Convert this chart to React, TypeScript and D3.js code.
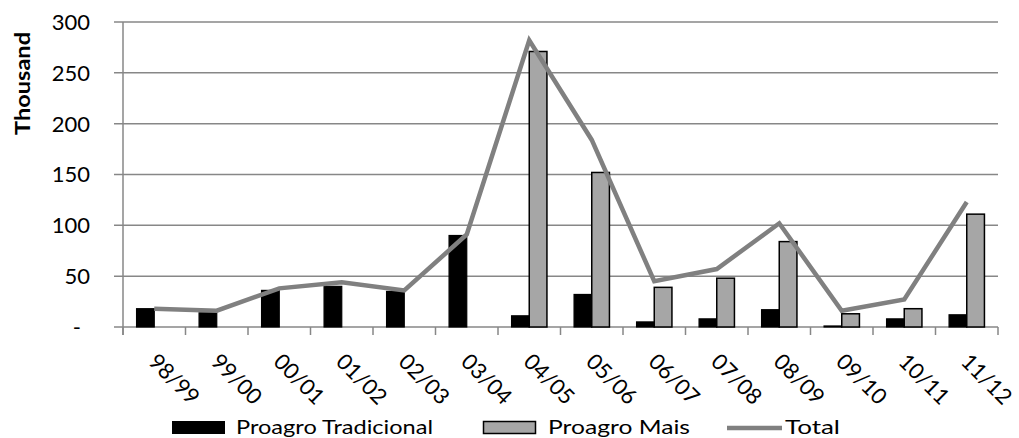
import React from "react";
import * as d3 from "d3";

const categories = ["98/99", "99/00", "00/01", "01/02", "02/03", "03/04", "04/05", "05/06", "06/07", "07/08", "08/09", "09/10", "10/11", "11/12"];
const tradicional = [18, 14, 36, 40, 35, 90, 11, 32, 5, 8, 17, 1, 8, 12];
const mais = [0, 0, 0, 0, 0, 0, 271, 152, 39, 48, 84, 13, 18, 111];
const total = [18, 16, 38, 44, 36, 91, 282, 184, 45, 57, 102, 16, 27, 123];
const yTicks = [0, 50, 100, 150, 200, 250, 300];
const seriesNames = ["Proagro Tradicional", "Proagro Mais", "Total"];

const W = 1019, H = 438;
const L = 123, R = 998, T = 22, B = 327;
const FONT = "Lato, 'Open Sans', sans-serif";

export default function App() {
  const x = d3.scaleBand<string>().domain(categories).range([L, R]).padding(0);
  const bw = x.bandwidth();
  const x1 = d3.scaleBand<string>().domain(["t", "m"]).range([bw * 0.217, bw * 0.783]).padding(0);
  const y = d3.scaleLinear().domain([0, 300]).range([B, T]);
  const line = d3.line<number>().x((_, i) => (x(categories[i]) as number) + bw / 2).y((d) => y(d));
  const boundaries = d3.range(categories.length + 1).map((i) => L + i * bw);
  const grid = "#878787";

  return (
    <svg width={W} height={H} style={{ position: "absolute", left: 0, top: 0, background: "#fff" }} fontFamily={FONT}>
      {yTicks.map((t) => (
        <g key={t}>
          <line x1={L - 9} x2={R} y1={y(t)} y2={y(t)} stroke={grid} strokeWidth={1.5} />
          <text x={t === 0 ? 81 : 90} y={y(t)} dy="0.36em" textAnchor="end" fontSize={22} fill="#000">
            {t === 0 ? "-" : t}
          </text>
        </g>
      ))}
      <line x1={L} x2={L} y1={T} y2={B + 8} stroke={grid} strokeWidth={1.5} />
      {boundaries.map((b, i) => (
        <line key={i} x1={b} x2={b} y1={B} y2={B + 8} stroke={grid} strokeWidth={1.5} />
      ))}
      <text transform={`translate(30,83.5) rotate(-90)`} textAnchor="middle" fontSize={21} fontWeight="bold" fill="#000" textLength={103} lengthAdjust="spacingAndGlyphs">
        Thousand
      </text>
      {categories.map((c, i) => {
        const x0 = x(c) as number;
        return (
          <g key={c}>
            {tradicional[i] > 0 && (
              <rect x={x0 + (x1("t") as number)} y={y(tradicional[i])} width={x1.bandwidth()} height={B - y(tradicional[i])} fill="#000" stroke="#000" strokeWidth={1.2} />
            )}
            {mais[i] > 0 && (
              <rect x={x0 + (x1("m") as number)} y={y(mais[i])} width={x1.bandwidth()} height={B - y(mais[i])} fill="#A6A6A6" stroke="#000" strokeWidth={1.5} />
            )}
          </g>
        );
      })}
      <path d={line(total) as string} fill="none" stroke="#808080" strokeWidth={4.5} strokeLinejoin="miter" />
      {categories.map((c) => {
        const cx = (x(c) as number) + bw / 2;
        return (
          <text key={c} transform={`translate(${cx - 7},${B + 36}) rotate(45)`} textAnchor="start" fontSize={22} fill="#000">
            {c}
          </text>
        );
      })}
      <rect x={172} y={421} width={53} height={13} fill="#000" />
      <text x={236} y={434} fontSize={20} fill="#000" textLength={197} lengthAdjust="spacingAndGlyphs">{seriesNames[0]}</text>
      <rect x={483.5} y={421.5} width={52} height={12} fill="#A6A6A6" stroke="#000" strokeWidth={1.5} />
      <text x={548} y={434} fontSize={20} fill="#000" textLength={142} lengthAdjust="spacingAndGlyphs">{seriesNames[1]}</text>
      <line x1={727} x2={782} y1={428} y2={428} stroke="#808080" strokeWidth={4.5} />
      <text x={785} y={434} fontSize={20} fill="#000" textLength={55} lengthAdjust="spacingAndGlyphs">{seriesNames[2]}</text>
    </svg>
  );
}
